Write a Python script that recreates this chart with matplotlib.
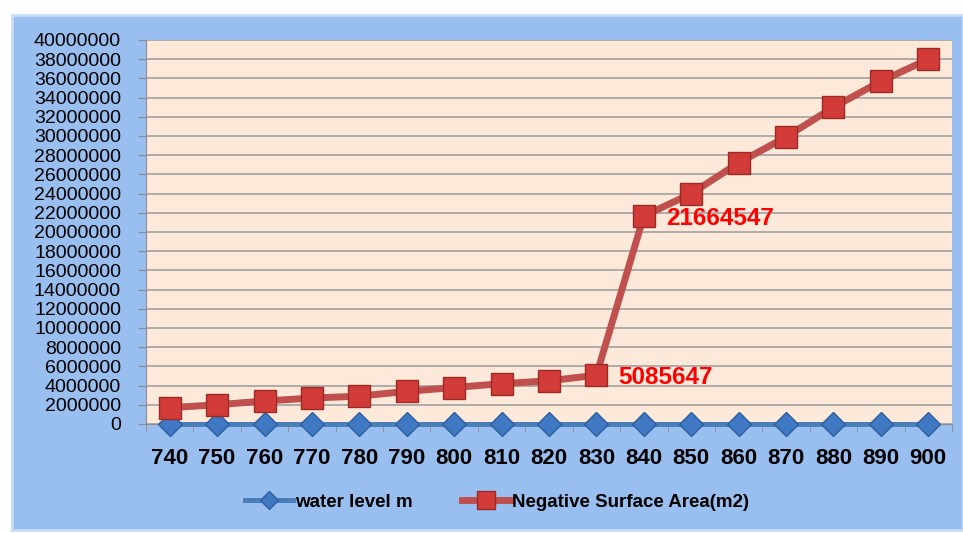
import matplotlib.pyplot as plt
import numpy as np
from matplotlib.patches import Rectangle

levels = [740, 750, 760, 770, 780, 790, 800, 810, 820, 830, 840, 850, 860, 870, 880, 890, 900]
water_level = [740, 750, 760, 770, 780, 790, 800, 810, 820, 830, 840, 850, 860, 870, 880, 890, 900]
neg_area = [1700000, 2000000, 2400000, 2700000, 2900000, 3400000, 3800000, 4200000, 4500000,
            5085647, 21664547, 24000000, 27200000, 29900000, 33000000, 35700000, 38000000]
labelled = {9: '5085647', 10: '21664547'}

plt.rcParams['font.family'] = ['Liberation Sans', 'DejaVu Sans']

fig = plt.figure(figsize=(9.63, 5.33), dpi=100)
fig.patch.set_facecolor('white')
W, H = 963, 533
# blue chart area
fig.patches.append(Rectangle((12 / W, 3 / H), 951 / W, 515 / H, transform=fig.transFigure,
                             facecolor='#98BFEF', edgecolor='#C8DDF7', linewidth=2, zorder=-10))

ax = fig.add_axes([146 / W, (H - 424) / H, 806 / W, 384 / H])
ax.set_facecolor('#FDE9D9')
x = np.arange(len(levels))

ax.plot(x, water_level, color='#4A7EBB', linewidth=3.6, marker='D', markersize=12,
        markerfacecolor='#3F78C3', markeredgecolor='#2E5E9C', markeredgewidth=1,
        label='water level m', zorder=3, clip_on=False)
ax.plot(x, neg_area, color='#C0504D', linewidth=5, marker='s', markersize=16,
        markerfacecolor='#D23B38', markeredgecolor='#9C2B28', markeredgewidth=1,
        label='Negative Surface Area(m2)', zorder=4, clip_on=False)

for i, txt in labelled.items():
    ax.annotate(txt, (x[i], neg_area[i]), xytext=(16, -2), textcoords='offset points',
                color='#FF0000', fontsize=17.5, fontweight='bold', va='center', ha='left')

ax.set_xlim(-0.5, len(levels) - 0.5)
ax.set_ylim(0, 40000000)
ax.set_yticks(np.arange(0, 40000001, 2000000))
ax.set_yticklabels([str(v) for v in range(0, 40000001, 2000000)], fontsize=14)
ax.set_xticks(x)
ax.set_xticklabels([str(v) for v in levels], fontsize=16, fontweight='bold')
ax.set_xticks(np.arange(-0.5, len(levels), 1), minor=True)
ax.tick_params(axis='x', which='major', length=0, pad=17)
ax.tick_params(axis='x', which='minor', length=6, color='#8C8C8C', direction='out')
ax.tick_params(axis='y', length=6, color='#8C8C8C', direction='out', pad=12)
ax.grid(axis='y', color='#A0A0A0', linewidth=1.2)
ax.set_axisbelow(True)
for s in ['top', 'right']:
    ax.spines[s].set_visible(False)
ax.spines['left'].set_color('#8C8C8C')
ax.spines['bottom'].set_color('#8C8C8C')

leg = fig.legend(loc='center', bbox_to_anchor=(497 / W, (H - 502) / H), ncol=2, frameon=False,
                 prop={'weight': 'bold', 'size': 13.5}, handlelength=2.6, columnspacing=2.6,
                 handletextpad=0.1, markerscale=0.8)

fig.savefig('out.png', dpi=100, facecolor='white')
